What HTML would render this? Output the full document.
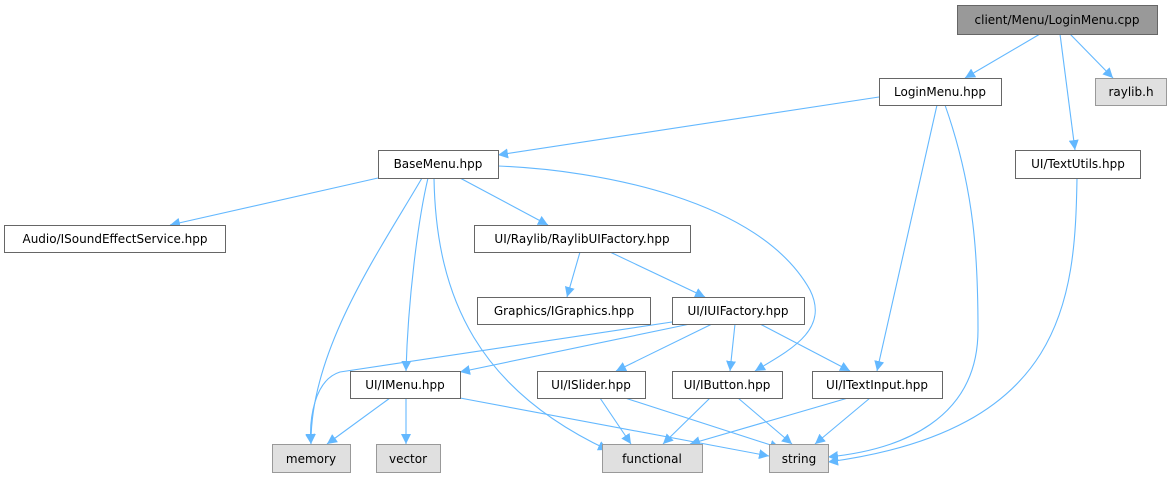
<!DOCTYPE html>
<html><head><meta charset="utf-8"><style>
html,body{margin:0;padding:0;background:#fff;}
svg text{font-family:"DejaVu Sans","Liberation Sans",sans-serif;font-size:12px;fill:#000;text-anchor:middle;}
</style></head><body>
<svg width="1172" height="476" viewBox="0 0 1172 476" xmlns="http://www.w3.org/2000/svg">
<defs><marker id="a" viewBox="0 0 10 10" refX="10" refY="5" markerWidth="10" markerHeight="10" markerUnits="userSpaceOnUse" orient="auto"><path d="M0,0L10,5L0,10z" fill="#63b8ff"/></marker></defs>
<g fill="none" stroke="#63b8ff" stroke-width="1.1" marker-end="url(#a)">
<path d="M1040,34L965,78"/>
<path d="M1060,34L1075,150"/>
<path d="M1070,34L1113,78"/>
<path d="M879,97L498,155"/>
<path d="M937,105L877,371"/>
<path d="M945,105C975,190 978,260 978,330C978,420 900,450 828,457"/>
<path d="M1077,178C1075,300 1065,430 828,462"/>
<path d="M378,178L170,225"/>
<path d="M460,178L548,225"/>
<path d="M498,166C600,170 760,200 810,290C830,330 790,350 755,371"/>
<path d="M428,178C418,220 408,300 406,371"/>
<path d="M422,178C380,250 310,350 311,444"/>
<path d="M434,178C436,300 480,390 608,450"/>
<path d="M580,252L567,297"/>
<path d="M610,252L705,297"/>
<path d="M690,324L460,372"/>
<path d="M672,322L340,372C314,380 309,420 311,444"/>
<path d="M712,324L616,371"/>
<path d="M735,324L730,371"/>
<path d="M760,324L850,371"/>
<path d="M390,398L327,444"/>
<path d="M406,398L406,444"/>
<path d="M460,398L769,456"/>
<path d="M600,398L631,444"/>
<path d="M625,398L780,448"/>
<path d="M710,398L663,444"/>
<path d="M738,398L792,444"/>
<path d="M848,398L690,444"/>
<path d="M870,398L815,444"/>
</g>
<g stroke-width="1">
<rect x="957.5" y="5.5" width="200" height="29" fill="#999" stroke="#666"/>
<rect x="879.5" y="78.5" width="122" height="27" fill="#fff" stroke="#666"/>
<rect x="1095.5" y="78.5" width="71" height="27" fill="#e0e0e0" stroke="#999"/>
<rect x="378.5" y="150.5" width="120" height="28" fill="#fff" stroke="#666"/>
<rect x="1015.5" y="150.5" width="125" height="28" fill="#fff" stroke="#666"/>
<rect x="4.5" y="225.5" width="221" height="27" fill="#fff" stroke="#666"/>
<rect x="474.5" y="225.5" width="216" height="27" fill="#fff" stroke="#666"/>
<rect x="477.5" y="297.5" width="173" height="27" fill="#fff" stroke="#666"/>
<rect x="672.5" y="297.5" width="132" height="27" fill="#fff" stroke="#666"/>
<rect x="350.5" y="371.5" width="110" height="27" fill="#fff" stroke="#666"/>
<rect x="537.5" y="371.5" width="108" height="27" fill="#fff" stroke="#666"/>
<rect x="672.5" y="371.5" width="110" height="27" fill="#fff" stroke="#666"/>
<rect x="812.5" y="371.5" width="130" height="27" fill="#fff" stroke="#666"/>
<rect x="272.5" y="444.5" width="78" height="28" fill="#e0e0e0" stroke="#999"/>
<rect x="376.5" y="444.5" width="64" height="28" fill="#e0e0e0" stroke="#999"/>
<rect x="602.5" y="444.5" width="100" height="28" fill="#e0e0e0" stroke="#999"/>
<rect x="769.5" y="444.5" width="59" height="28" fill="#e0e0e0" stroke="#999"/>
</g>
<text x="1057" y="24">client/Menu/LoginMenu.cpp</text>
<text x="940" y="96">LoginMenu.hpp</text>
<text x="1131" y="96">raylib.h</text>
<text x="438" y="168">BaseMenu.hpp</text>
<text x="1078" y="168">UI/TextUtils.hpp</text>
<text x="115" y="243">Audio/ISoundEffectService.hpp</text>
<text x="582" y="243">UI/Raylib/RaylibUIFactory.hpp</text>
<text x="564" y="315">Graphics/IGraphics.hpp</text>
<text x="738" y="315">UI/IUIFactory.hpp</text>
<text x="405" y="389">UI/IMenu.hpp</text>
<text x="591" y="389">UI/ISlider.hpp</text>
<text x="727" y="389">UI/IButton.hpp</text>
<text x="877" y="389">UI/ITextInput.hpp</text>
<text x="311" y="463">memory</text>
<text x="408" y="463">vector</text>
<text x="652" y="463">functional</text>
<text x="799" y="463">string</text>
</svg>
</body></html>
